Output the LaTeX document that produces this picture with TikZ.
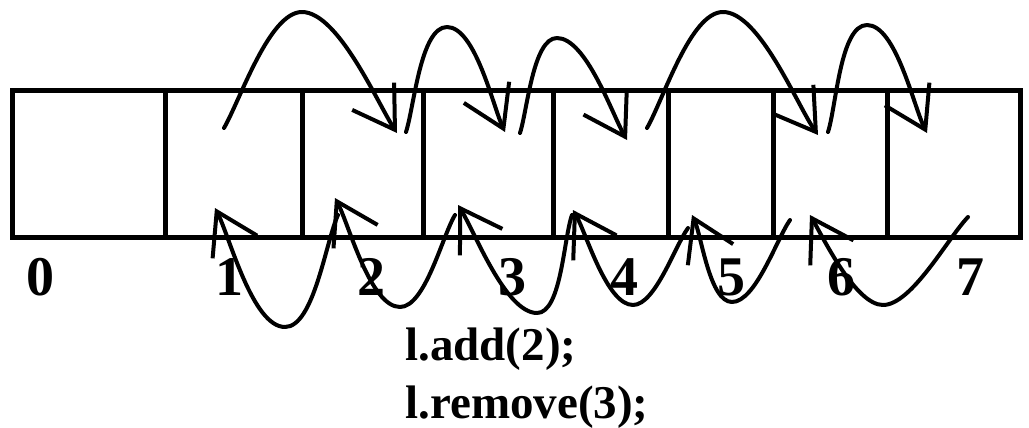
\documentclass[tikz,border=0pt]{standalone}
\usepackage{fontspec}
\setmainfont{Liberation Serif}
\usetikzlibrary{arrows.meta}
\tikzset{
  cell/.style ={rectangle, draw=black, line width=2.5pt, inner sep=0pt, outer sep=0pt,
                minimum height=73.5pt},
  idx/.style  ={font=\fontsize{28}{30}\selectfont\bfseries, inner sep=0pt},
  code/.style ={font=\fontsize{23.5}{30}\selectfont\bfseries, inner sep=0pt, anchor=base west},
  hop/.style  ={-{Straight Barb[length=20pt,width=25pt]}, line width=2pt,
                line cap=round, line join=round, looseness=0.6}
}
\begin{document}
\begin{tikzpicture}[x=0.5pt,y=0.5pt]
\useasboundingbox (0,0) rectangle (1029,-428);
% the cells of the list
\foreach \i/\l/\r in {0/12/165, 1/165/302, 2/302/423, 3/423/553, 4/553/668, 5/668/773, 6/773/887, 7/887/1020}{
  \node[cell, minimum width={(\r-\l)*0.5pt}] (c\i) at ({(\l+\r)/2},-163.5) {};
}
% indices
\foreach \i/\x in {0/40, 1/229, 2/371, 3/512, 4/624, 5/731, 6/841, 7/970}
  \node[idx] (n\i) at (\x,-277) {\i};
% add: elements hop to the right
\foreach \k/\sx/\sy/\px/\py/\tx/\ty/\o/\n in {1/224/128/302/12/397/133/60/123, 2/406/132/447/27/505/132/72/115,
    3/520/133/557/38/627/140/72/120, 4/647/128/723/12/818/135/60/125, 5/828/132/867/25/927/133/72/117}{
  \coordinate (a\k) at (\sx,-\sy);
  \coordinate (p\k) at (\px,-\py);
  \coordinate (b\k) at (\tx,-\ty);
  \draw[hop] (a\k) to[out=\o,in=180] (p\k) to[out=0,in=\n] (b\k);
}
% remove: elements hop back to the left
\foreach \k/\sx/\sy/\px/\py/\tx/\ty/\o/\n in {1/968/217/883/305/810/215/226/-60, 2/790/220/732/302/692/215/235/-65,
    3/688/228/633/305/573/210/234/-60, 4/572/215/537/313/458/205/250/-58,
    5/455/215/400/307/335/198/239/-62, 6/338/215/285/327/215/208/245/-63}{
  \coordinate (r\k) at (\sx,-\sy);
  \coordinate (v\k) at (\px,-\py);
  \coordinate (l\k) at (\tx,-\ty);
  \draw[hop] (r\k) to[out=\o,in=0] (v\k) to[out=180,in=\n] (l\k);
}
\node[code] (add) at (405,-360) {l.add(2);};
\node[code] (remove) at (405,-418) {l.remove(3);};
\end{tikzpicture}
\end{document}
